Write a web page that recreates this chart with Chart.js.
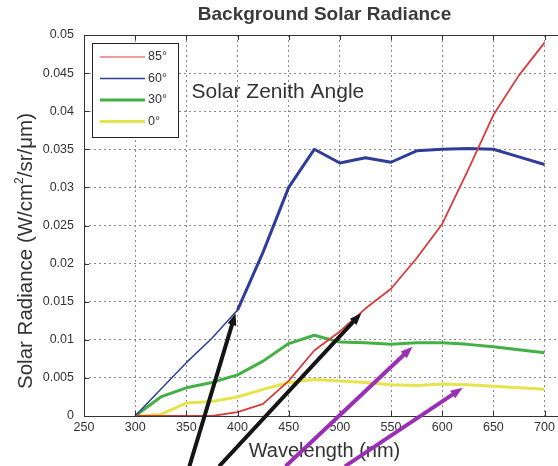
<!DOCTYPE html>
<html>
<head>
<meta charset="utf-8">
<title>Background Solar Radiance</title>
<script src="https://cdn.jsdelivr.net/npm/chart.js@4.4.1/dist/chart.umd.min.js"></script>
<style>
  html, body { margin: 0; padding: 0; background: #fff; overflow: hidden; }
  #wrap { width: 600px; height: 466px; }
</style>
</head>
<body>
<div id="wrap"><canvas id="radiance" width="600" height="466"></canvas></div>
<script>
// wavelength samples (nm) and radiance per zenith angle (W/cm^2/sr/um)
const wavelengths = [300, 325, 350, 375, 400, 425, 450, 475, 500, 525, 550, 575, 600, 625, 650, 675, 700];
const zenith85 = [0, 0, 0, 0, 0.0005, 0.0016, 0.0046, 0.0086, 0.0111, 0.0141, 0.0167, 0.0207, 0.0252, 0.0322, 0.0395, 0.0447, 0.049];
const zenith60 = [0, 0.0035, 0.007, 0.0102, 0.0139, 0.0215, 0.030, 0.035, 0.0332, 0.0339, 0.0333, 0.0348, 0.035, 0.0351, 0.035, 0.034, 0.033];
const zenith30 = [0, 0.0025, 0.0037, 0.0044, 0.0054, 0.0072, 0.0095, 0.0106, 0.0097, 0.0096, 0.0094, 0.0096, 0.0096, 0.0094, 0.0091, 0.0087, 0.0083];
const zenith0 = [0, 0.0002, 0.0017, 0.0019, 0.0025, 0.0035, 0.0044, 0.0048, 0.0046, 0.0044, 0.0041, 0.004, 0.0042, 0.0041, 0.0039, 0.0037, 0.0035];
const seriesLabels = ['85°', '60°', '30°', '0°'];

const xTicks = [250, 300, 350, 400, 450, 500, 550, 600, 650, 700];
const yTicks = [0, 0.005, 0.01, 0.015, 0.02, 0.025, 0.03, 0.035, 0.04, 0.045, 0.05];

// pointer arrows, [tail, tip] in axis units
const blackArrows = [
    [[353, -0.0066], [398, 0.0135]],
    [[382, -0.0066], [521, 0.0135]]
];
const purpleArrows = [
    [[447, -0.0066], [571, 0.0091]],
    [[505, -0.0066], [620, 0.0037]]
];

const FONT = 'Arial, "Liberation Sans", sans-serif';
const TEXT = '#333';

function pts(ys) {
    return wavelengths.map((w, i) => ({ x: w, y: ys[i] }));
}

function drawArrow(ctx, x0, y0, x1, y1, color) {
    const ang = Math.atan2(y1 - y0, x1 - x0);
    const head = 12, half = 4.5;
    ctx.save();
    ctx.strokeStyle = color;
    ctx.fillStyle = color;
    ctx.lineWidth = 4;
    ctx.lineCap = 'butt';
    ctx.beginPath();
    ctx.moveTo(x0, y0);
    ctx.lineTo(x1 - Math.cos(ang) * head * 0.8, y1 - Math.sin(ang) * head * 0.8);
    ctx.stroke();
    ctx.beginPath();
    ctx.moveTo(x1, y1);
    ctx.lineTo(x1 - Math.cos(ang) * head - Math.sin(ang) * half, y1 - Math.sin(ang) * head + Math.cos(ang) * half);
    ctx.lineTo(x1 - Math.cos(ang) * head + Math.sin(ang) * half, y1 - Math.sin(ang) * head - Math.cos(ang) * half);
    ctx.closePath();
    ctx.fill();
    ctx.restore();
}

// axes box, inward ticks, titles, legend and arrows
const decorations = {
    id: 'decorations',
    afterDraw(chart) {
        const { ctx, chartArea: a, scales: { x, y } } = chart;
        ctx.save();

        // box + inner ticks
        ctx.strokeStyle = '#333';
        ctx.lineWidth = 1;
        ctx.strokeRect(a.left + 0.5, a.top + 0.5, a.right - a.left, a.bottom - a.top);
        ctx.beginPath();
        xTicks.forEach(v => {
            const px = Math.round(x.getPixelForValue(v)) + 0.5;
            ctx.moveTo(px, a.bottom); ctx.lineTo(px, a.bottom - 5);
            ctx.moveTo(px, a.top); ctx.lineTo(px, a.top + 5);
        });
        yTicks.forEach(v => {
            const py = Math.round(y.getPixelForValue(v)) + 0.5;
            ctx.moveTo(a.left, py); ctx.lineTo(a.left + 5, py);
            ctx.moveTo(a.right, py); ctx.lineTo(a.right - 5, py);
        });
        ctx.stroke();

        const cx = (a.left + a.right) / 2;
        ctx.fillStyle = TEXT;

        // title
        ctx.font = 'bold 19px ' + FONT;
        ctx.textAlign = 'center';
        ctx.textBaseline = 'middle';
        ctx.fillStyle = '#3a3a3a';
        ctx.fillText('Background Solar Radiance', cx, 15);
        ctx.fillStyle = TEXT;

        // x axis title
        ctx.font = '20px ' + FONT;
        ctx.textBaseline = 'alphabetic';
        ctx.fillText('Wavelength (nm)', cx, 457);

        // y axis title with superscript
        ctx.save();
        ctx.translate(32, 251);
        ctx.rotate(-Math.PI / 2);
        const big = '20.5px ' + FONT, small = '12px ' + FONT;
        const parts = [['Solar Radiance (W/cm', big, 0], ['2', small, -9], ['/sr/μm)', big, 0]];
        let total = 0;
        parts.forEach(p => { ctx.font = p[1]; total += ctx.measureText(p[0]).width; });
        let tx = -total / 2;
        ctx.textAlign = 'left';
        parts.forEach(p => {
            ctx.font = p[1];
            ctx.fillText(p[0], tx, p[2]);
            tx += ctx.measureText(p[0]).width;
        });
        ctx.restore();

        // annotation inside plot
        ctx.font = '21px ' + FONT;
        ctx.textAlign = 'left';
        ctx.fillText('Solar Zenith Angle', x.getPixelForValue(355), y.getPixelForValue(0.0417));

        // legend
        const lx = 92, ly = 43, lw = 86, lh = 94;
        ctx.fillStyle = '#fff';
        ctx.fillRect(lx, ly, lw, lh);
        ctx.strokeStyle = '#222';
        ctx.strokeRect(lx + 0.5, ly + 0.5, lw, lh);
        ctx.font = '12.5px ' + FONT;
        ctx.textBaseline = 'middle';
        chart.data.datasets.forEach((ds, i) => {
            const ry = ly + 14 + i * 21.5;
            ctx.strokeStyle = ds.borderColor;
            ctx.lineWidth = ds.legendWidth;
            ctx.beginPath();
            ctx.moveTo(lx + 8, ry); ctx.lineTo(lx + 53, ry);
            ctx.stroke();
            ctx.fillStyle = TEXT;
            ctx.fillText(ds.label, lx + 56, ry);
        });
        ctx.restore();

        // arrows on top of everything
        const toPx = p => [x.getPixelForValue(p[0]), y.getPixelForValue(p[1])];
        blackArrows.forEach(([t, h]) => drawArrow(ctx, ...toPx(t), ...toPx(h), '#151515'));
        purpleArrows.forEach(([t, h]) => drawArrow(ctx, ...toPx(t), ...toPx(h), '#9b2fb4'));
    }
};

new Chart(document.getElementById('radiance'), {
    type: 'line',
    data: {
        datasets: [
            { label: seriesLabels[0], data: pts(zenith85), borderColor: '#d93b3b', borderWidth: 1.8, legendWidth: 1 },
            {
                label: seriesLabels[1], data: pts(zenith60), borderColor: '#2f3c98', borderWidth: 3, legendWidth: 1.5,
                segment: { borderWidth: c => (c.p0.parsed.x < 400 ? 1.5 : 3) }
            },
            { label: seriesLabels[2], data: pts(zenith30), borderColor: '#45b045', borderWidth: 3, legendWidth: 3 },
            { label: seriesLabels[3], data: pts(zenith0), borderColor: '#e6e44c', borderWidth: 3, legendWidth: 3 }
        ]
    },
    options: {
        responsive: false,
        animation: false,
        devicePixelRatio: 1,
        layout: { padding: { top: 35, right: 35, left: 0, bottom: 0 } },
        elements: { point: { radius: 0 }, line: { tension: 0, borderJoinStyle: 'round' } },
        plugins: { legend: { display: false }, title: { display: false }, tooltip: { enabled: false } },
        scales: {
            x: {
                type: 'linear',
                min: 250,
                max: 720,
                afterFit: s => { s.height = 50; },
                afterBuildTicks: s => { s.ticks = xTicks.map(v => ({ value: v })); },
                grid: { color: '#8a8a8a', drawTicks: false },
                border: { display: false, dash: [2, 3] },
                ticks: { padding: 4, color: TEXT, font: { family: FONT, size: 12.5 }, maxRotation: 0 }
            },
            y: {
                min: 0,
                max: 0.05,
                afterFit: s => { s.width = 84; },
                afterBuildTicks: s => { s.ticks = yTicks.map(v => ({ value: v })); },
                grid: { color: '#8a8a8a', drawTicks: false },
                border: { display: false, dash: [2, 3] },
                ticks: { padding: 10, color: TEXT, font: { family: FONT, size: 12.5 }, callback: v => String(v) }
            }
        }
    },
    plugins: [decorations]
});
</script>
</body>
</html>
